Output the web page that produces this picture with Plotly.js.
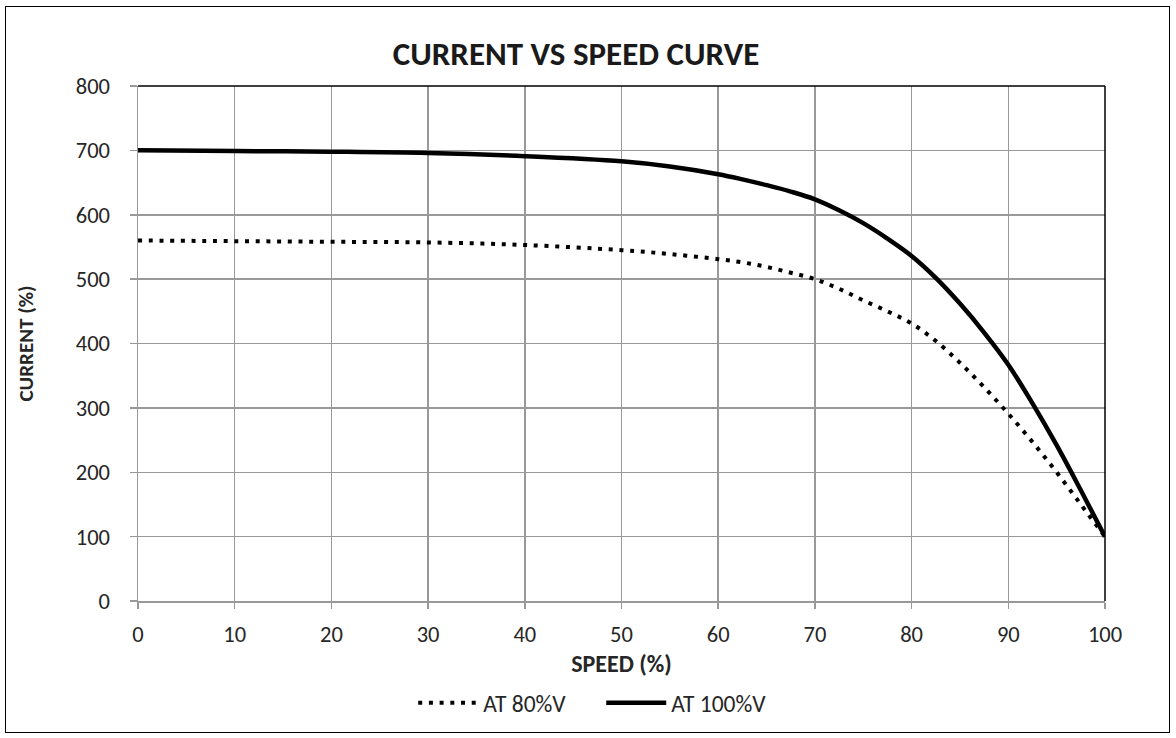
<!DOCTYPE html>
<html>
<head>
<meta charset="utf-8">
<script src="https://cdn.plot.ly/plotly-3.0.1.min.js"></script>
<style>
  html, body { margin: 0; padding: 0; background: #fff; }
  #wrap { position: relative; width: 1176px; height: 738px; }
  #chart { width: 1176px; height: 738px; }
  #frame { position: absolute; left: 5px; top: 6px; width: 1163px; height: 725px; border: 1.5px solid #000; pointer-events: none; }
</style>
</head>
<body>
<div id="wrap">
  <div id="chart"></div>
  <div id="frame"></div>
</div>
<script>
const speed = [0, 10, 20, 30, 40, 50, 55, 60, 62.5, 65, 67.5, 70, 72.5, 75, 77.5, 80, 82.5, 85, 87.5, 90, 92.5, 95, 97.5, 100];
const currentAt80 = [560, 559, 558, 557, 553, 545, 539, 531, 526, 519, 510, 500, 485, 467, 450, 431, 404, 370, 332, 291, 247, 200, 150, 100];
const currentAt100 = [700, 699, 698, 696, 691, 683, 675, 663, 655, 646, 636, 624, 607, 587, 563, 536, 502, 462, 417, 367, 307, 242, 172, 100];
const seriesNames = ['AT 80%V', 'AT 100%V'];
const xTicks = [0, 10, 20, 30, 40, 50, 60, 70, 80, 90, 100];
const yTicks = [0, 100, 200, 300, 400, 500, 600, 700, 800];

const baseFont = 'Carlito, Calibri, Lato, sans-serif';

const traces = [
  {
    x: speed, y: currentAt80, name: seriesNames[0], type: 'scatter', mode: 'lines',
    line: { color: '#000', width: 4, dash: '4px,6.7px', shape: 'spline', smoothing: 1 }
  },
  {
    x: speed, y: currentAt100, name: seriesNames[1], type: 'scatter', mode: 'lines',
    line: { color: '#000', width: 4.5, shape: 'spline', smoothing: 1 }
  }
];

const layout = {
  width: 1176, height: 738,
  margin: { l: 137.5, r: 70.5, t: 86, b: 137, pad: 0 },
  paper_bgcolor: '#fff', plot_bgcolor: '#fff',
  font: { family: baseFont, color: '#262626', size: 22 },
  title: {
    text: '<b>CURRENT VS SPEED CURVE</b>',
    font: { family: baseFont, size: 33, color: '#1a1a1a' },
    x: 0.453, xanchor: 'center', xref: 'paper', y: 0.927, yanchor: 'middle'
  },
  xaxis: {
    range: [0, 100], tickvals: xTicks, ticktext: xTicks.map(String),
    showgrid: true, gridcolor: '#999', gridwidth: 1.5,
    showline: true, linecolor: '#999', linewidth: 1.5,
    ticks: 'outside', ticklen: 6, tickcolor: '#999', tickwidth: 1.5,
    ticklabelstandoff: 6,
    zeroline: false, fixedrange: true,
    tickfont: { family: baseFont, size: 22.5, color: '#262626' },
    title: { text: '<b>SPEED (%)</b>', font: { family: baseFont, size: 24, color: '#262626' }, standoff: 8 }
  },
  yaxis: {
    range: [0, 800], tickvals: yTicks, ticktext: yTicks.map(String),
    showgrid: true, gridcolor: '#999', gridwidth: 1.5,
    showline: true, linecolor: '#999', linewidth: 1.5,
    ticks: 'outside', ticklen: 7, tickcolor: '#999', tickwidth: 1.5,
    ticklabelstandoff: 15,
    zeroline: false, fixedrange: true,
    tickfont: { family: baseFont, size: 22.5, color: '#262626' },
    title: { text: '<b>CURRENT (%)</b>', font: { family: baseFont, size: 21, color: '#262626' }, standoff: 36 }
  },
  shapes: [
    { type: 'line', xref: 'paper', yref: 'paper', x0: 0, x1: 1, y0: 1, y1: 1, line: { color: '#000', width: 1.5 } },
    { type: 'line', xref: 'paper', yref: 'paper', x0: 1, x1: 1, y0: 0, y1: 1, line: { color: '#000', width: 1.5 } }
  ],
  showlegend: true,
  legend: {
    orientation: 'h', x: 0.2846, xanchor: 'left', y: -0.198, yanchor: 'middle',
    itemwidth: 60, tracegroupgap: 0, entrywidth: 113, entrywidthmode: 'pixels',
    font: { family: baseFont, size: 23.5, color: '#262626' }, bgcolor: 'rgba(0,0,0,0)'
  }
};

Plotly.newPlot('chart', traces, layout, { displayModeBar: false, staticPlot: true });
</script>
</body>
</html>
